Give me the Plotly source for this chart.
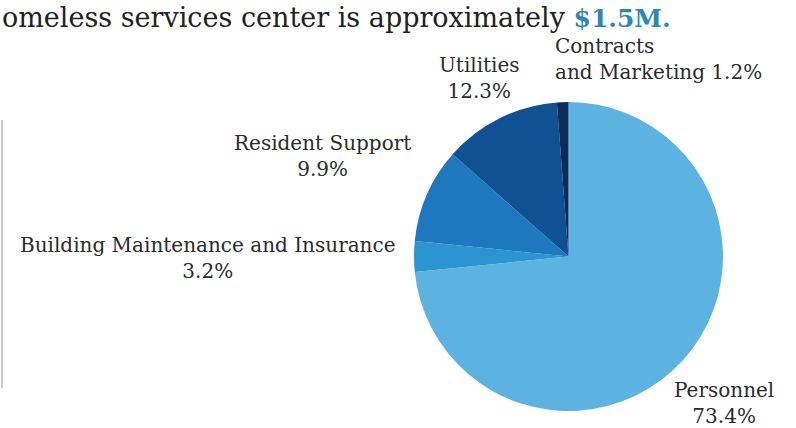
import plotly.graph_objects as go

categories = ["Personnel", "Building Maintenance and Insurance", "Resident Support", "Utilities", "Contracts\nand Marketing"]
values = [73.4, 3.2, 9.9, 12.3, 1.2]
colors = ["#5CB3E1", "#2B95D1", "#1D78BF", "#0F5192", "#0B2B58"]

title_text = "omeless services center is approximately "
title_amount = "$1.5M."

FONT = "DejaVu Serif"
TXT = "#2b2b2b"

fig = go.Figure(go.Pie(
    labels=categories, values=values, sort=False, direction="clockwise", rotation=0,
    marker=dict(colors=colors, line=dict(width=0)), textinfo="none", hoverinfo="label+percent",
    domain=dict(x=[414/796, 723/796], y=[1-411/428, 1-102/428]), showlegend=False,
))

# label anchors (paper coords) and alignment
label_pos = [
    (724, 403, "center"),
    (208, 258, "center"),
    (322, 156, "center"),
    (480, 78, "center"),
    (553, 59, "left"),
]

annotations = []
for (name, v, (px, py, al)) in zip(categories, values, label_pos):
    if "\n" in name:
        a, b = name.split("\n")
        text = f"{a}<br>{b} {v}%"
    else:
        text = f"{name}<br>{v}%"
    annotations.append(dict(
        x=px/796, y=1-py/428, xref="paper", yref="paper", text=text, showarrow=False,
        xanchor="center" if al == "center" else "left", yanchor="middle", align=al,
        font=dict(family=FONT, size=20, color=TXT),
    ))

annotations.append(dict(
    x=0, y=1-17/428, xref="paper", yref="paper", xanchor="left", yanchor="middle",
    text=f"{title_text}<b><span style='color:#2E86B8;font-size:25px'>{title_amount}</span></b>", showarrow=False,
    font=dict(family=FONT, size=27, color="#222222"),
))

fig.update_layout(
    width=796, height=428, margin=dict(l=0, r=0, t=0, b=0),
    paper_bgcolor="white", plot_bgcolor="white", annotations=annotations,
    shapes=[dict(type="line", xref="paper", yref="paper", x0=2/796, x1=2/796, y0=1-120/428, y1=1-388/428,
                 line=dict(color="#c8c8c8", width=2))],
)

fig.write_html("out.html", config={"displayModeBar": False},
               post_script="document.body.style.margin='0';")
